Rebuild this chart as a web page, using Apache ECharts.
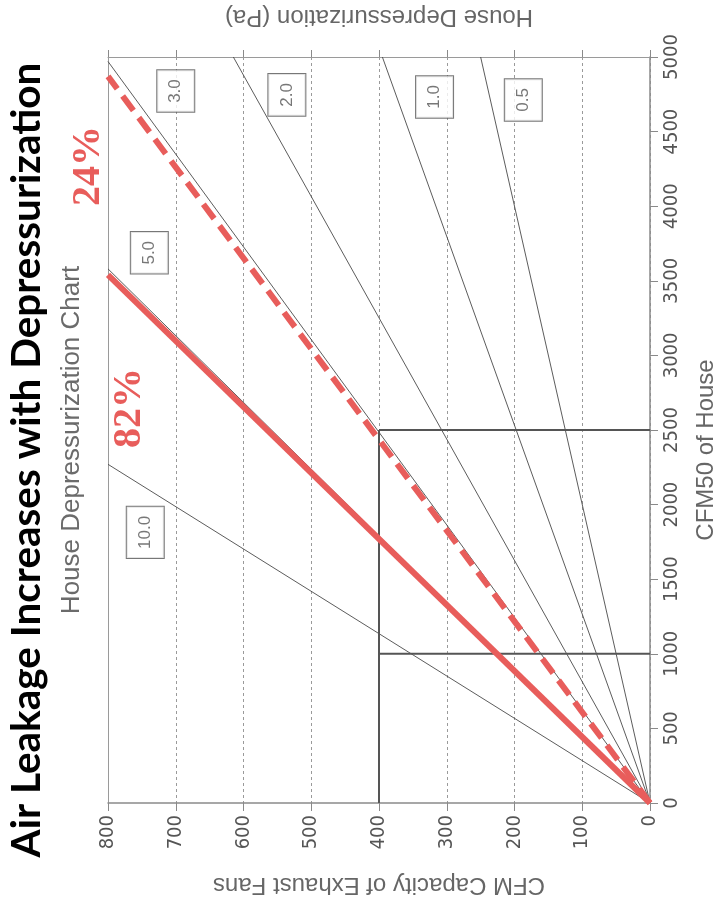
<!DOCTYPE html>
<html>
<head>
<meta charset="utf-8">
<script src="https://cdn.jsdelivr.net/npm/echarts@6/dist/echarts.min.js"></script>
<style>
html,body{margin:0;padding:0;background:#fff;}
#chart{width:726px;height:902px;}
</style>
</head>
<body>
<div id="chart"></div>
<script>
// ---------- data ----------
const fanTickStep = 100;            // CFM Capacity of Exhaust Fans
const fanMax = 800;
const houseTickStep = 500;          // CFM50 of House
const houseMax = 5000;

// house depressurization lines (Pa): each runs from the origin to its end point
const pressureLabels = ['10.0', '5.0', '3.0', '2.0', '1.0', '0.5'];
const pressureEndFanCfm = [800, 800, 800, 615, 395, 250];
const pressureEndHouseCfm50 = [2270, 3580, 4970, 5000, 5000, 5000];

// highlighted cases
const caseLabels = ['82%', '24%'];
const caseEndFanCfm = [800, 800];
const caseEndHouseCfm50 = [3540, 4870];

// guide box lines
const guideFanCfm = 400;
const guideHouseCfm50 = [1000, 2500];

// ---------- layout (not data) ----------
const labelAnchorFan = [745, 739, 700, 536, 318, 187];
const labelAnchorHouse = [1814, 3688, 4772, 4746, 4732, 4712];
const RED = '#e85d5b';
const LINE = '#4a4a4a';
const axisFont = '"Liberation Sans", Arial, sans-serif';
const tickFont = '"Liberation Sans Narrow", "DejaVu Sans Condensed", "Liberation Sans", Arial, sans-serif';

const series = [];
pressureLabels.forEach((lab, i) => {
  series.push({
    name: lab + ' Pa', type: 'line', symbol: 'none', silent: true, z: 3,
    data: [[0, 0], [pressureEndFanCfm[i], pressureEndHouseCfm50[i]]],
    lineStyle: { color: LINE, width: 0.9 }
  });
});
series.push({
  name: 'guide-v', type: 'line', symbol: 'none', silent: true, z: 4,
  data: [[guideFanCfm, 0], [guideFanCfm, guideHouseCfm50[1]]],
  lineStyle: { color: '#555', width: 2 }
});
guideHouseCfm50.forEach((h, i) => {
  series.push({
    name: 'guide-h' + i, type: 'line', symbol: 'none', silent: true, z: 4,
    data: [[0, h], [guideFanCfm, h]],
    lineStyle: { color: '#555', width: 2 }
  });
});
caseLabels.forEach((lab, i) => {
  series.push({
    name: lab, type: 'line', symbol: 'none', silent: true, z: 6, clip: false,
    data: [[0, 0], [caseEndFanCfm[i], caseEndHouseCfm50[i]]],
    lineStyle: { color: RED, width: 6, type: i === 1 ? [18, 9] : 'solid', cap: 'butt' }
  });
});
series.push({
  name: 'labels', type: 'scatter', symbolSize: 0, silent: true, z: 8,
  data: pressureLabels.map((lab, i) => [labelAnchorFan[i], labelAnchorHouse[i], lab]),
  label: {
    show: true, position: 'inside', rotate: 90,
    formatter: p => p.value[2],
    color: '#555', fontSize: 17, fontFamily: axisFont,
    backgroundColor: '#fff', borderColor: '#555', borderWidth: 1,
    padding: [11, 9, 9, 9]
  }
});

const option = {
  animation: false,
  backgroundColor: '#fff',
  grid: { left: 108, right: 66, top: 57, bottom: 98, containLabel: false },
  xAxis: [
    {
      type: 'value', min: 0, max: fanMax, interval: fanTickStep, inverse: true, position: 'bottom',
      name: 'CFM Capacity of Exhaust Fans', nameLocation: 'middle', nameGap: 70, nameRotate: 180,
      nameTextStyle: { fontSize: 24, color: '#666', fontFamily: axisFont },
      axisLine: { show: true, onZero: false, lineStyle: { color: '#8a8a8a', width: 1.5 } },
      axisTick: { show: true, length: 8, lineStyle: { color: '#8a8a8a', width: 1 } },
      axisLabel: { rotate: 90, fontSize: 20, color: '#555', margin: 12, fontFamily: tickFont,
        formatter: v => String(v) },
      splitLine: { show: true, lineStyle: { color: '#9a9a9a', width: 1, type: [3, 3] } }
    },
    {
      type: 'value', min: 0, max: fanMax, interval: fanTickStep, inverse: true, position: 'top',
      name: 'House Depressurization (Pa)', nameLocation: 'middle', nameGap: 28, nameRotate: 180,
      nameTextStyle: { fontSize: 24, color: '#666', fontFamily: axisFont },
      axisLine: { show: true, onZero: false, lineStyle: { color: '#9a9a9a', width: 1 } },
      axisTick: { show: true, length: 7, lineStyle: { color: '#8a8a8a', width: 1 } },
      axisLabel: { show: false },
      splitLine: { show: false }
    }
  ],
  yAxis: [
    {
      type: 'value', min: 0, max: houseMax, interval: houseTickStep, position: 'right',
      name: 'CFM50 of House', nameLocation: 'middle', nameGap: 44, nameRotate: 90,
      nameTextStyle: { fontSize: 24, color: '#666', fontFamily: axisFont, padding: [0, 40, 0, 0] },
      axisLine: { show: true, onZero: false, lineStyle: { color: '#8a8a8a', width: 1.5 } },
      axisTick: { show: true, length: 8, lineStyle: { color: '#8a8a8a', width: 1 } },
      axisLabel: { rotate: 90, fontSize: 20, color: '#555', margin: 12, fontFamily: tickFont,
        formatter: v => String(v) },
      splitLine: { show: false }
    },
    {
      type: 'value', min: 0, max: houseMax, interval: houseTickStep, position: 'left',
      axisLine: { show: true, onZero: false, lineStyle: { color: '#9a9a9a', width: 1 } },
      axisTick: { show: false }, axisLabel: { show: false }, splitLine: { show: false }
    }
  ],
  series: series,
  graphic: [
    { type: 'text', x: 27, y: 460, rotation: Math.PI / 2, z: 20,
      style: { text: 'Air Leakage Increases with Depressurization', fill: '#000',
        font: 'bold 40.5px Lato, "Open Sans", sans-serif', align: 'center', verticalAlign: 'middle' } },
    { type: 'text', x: 72, y: 440, rotation: Math.PI / 2, z: 20,
      style: { text: 'House Depressurization Chart', fill: '#6b6b6b',
        font: '26px "Liberation Sans", Arial, sans-serif', align: 'center', verticalAlign: 'middle' } },
    { type: 'text', x: 130, y: 408, rotation: Math.PI / 2, z: 20,
      style: { text: caseLabels[0], fill: RED,
        font: 'bold 40px "Liberation Serif", "DejaVu Serif", serif', align: 'center', verticalAlign: 'middle' } },
    { type: 'text', x: 89, y: 166, rotation: Math.PI / 2, z: 20,
      style: { text: caseLabels[1], fill: RED,
        font: 'bold 40px "Liberation Serif", "DejaVu Serif", serif', align: 'center', verticalAlign: 'middle' } }
  ]
};

const chart = echarts.init(document.getElementById('chart'), null, { renderer: 'canvas' });
chart.setOption(option);
</script>
</body>
</html>
